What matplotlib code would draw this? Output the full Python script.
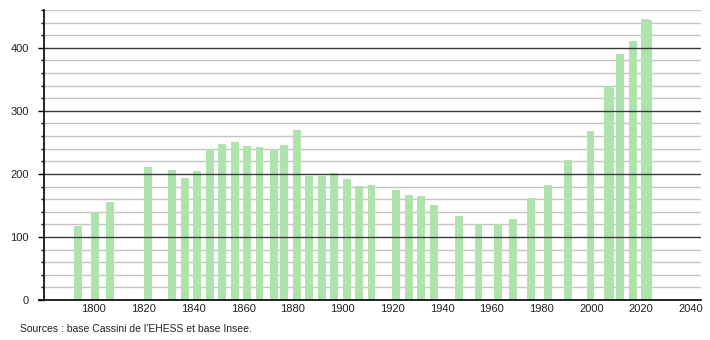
import matplotlib
matplotlib.use("Agg")
import matplotlib.pyplot as plt
import numpy as np

plt.rcParams["font.family"] = ["Liberation Sans", "DejaVu Sans"]

# census years and population
YEARS = [1793, 1800, 1806, 1821, 1831, 1836, 1841, 1846, 1851, 1856,
         1861, 1866, 1872, 1876, 1881, 1886, 1891, 1896, 1901, 1906,
         1911, 1921, 1926, 1931, 1936, 1946, 1954, 1962, 1968, 1975,
         1982, 1990, 1999, 2006, 2007, 2011, 2016, 2021, 2022]
POPULATION = [118, 140, 156, 211, 206, 194, 205, 240, 248, 251,
              245, 242, 239, 246, 270, 197, 196, 202, 192, 181,
              183, 175, 167, 165, 151, 133, 121, 121, 129, 162,
              183, 222, 268, 339, 336, 391, 411, 446, 444]

X_TICKS = [1800, 1820, 1840, 1860, 1880, 1900, 1920, 1940, 1960, 1980, 2000, 2020, 2040]
Y_MAJOR = [0, 100, 200, 300, 400]
Y_MINOR = np.arange(0, 461, 20)

BAR_COLOR = "#aee3ae"

fig = plt.figure(figsize=(7.1, 3.4), dpi=100)
ax = fig.add_axes([44 / 710, 40 / 340, 657 / 710, 290 / 340])

ax.bar(np.array(YEARS) + 0.6, POPULATION, width=3.2, color=BAR_COLOR,
       edgecolor="none", zorder=2)

ax.set_xlim(1780, 2044)
ax.set_ylim(0, 460)

# grid: light lines every 20, dark lines every 100
for y in Y_MINOR:
    if y % 100 == 0:
        continue
    ax.axhline(y, color="#c4c4c4", linewidth=1.0, zorder=1)
for y in Y_MAJOR[1:]:
    ax.axhline(y, color="#3a3a3a", linewidth=1.0, zorder=3)

ax.set_xticks(X_TICKS)
ax.set_xticklabels([str(t) for t in X_TICKS], fontsize=8, color="#222222")
ax.tick_params(axis="x", length=0, pad=3)

ax.set_yticks(Y_MAJOR)
ax.set_yticklabels([str(t) for t in Y_MAJOR], fontsize=8, color="#222222")
ax.set_yticks(Y_MINOR, minor=True)
ax.tick_params(axis="y", which="major", length=4, width=1, pad=7, color="black")
ax.tick_params(axis="y", which="minor", length=2, width=1, color="black")

for side in ("top", "right"):
    ax.spines[side].set_visible(False)
ax.spines["left"].set_linewidth(1.2)
ax.spines["bottom"].set_linewidth(1.2)
ax.spines["bottom"].set_bounds(1778, 2044)
ax.spines["left"].set_zorder(4)
ax.spines["bottom"].set_zorder(4)

fig.text(20 / 710, 1 - 329 / 340, "Sources : base Cassini de l'EHESS et base Insee.",
         fontsize=7.5, color="#222222", va="center", ha="left")

fig.savefig("out.png", dpi=100)
